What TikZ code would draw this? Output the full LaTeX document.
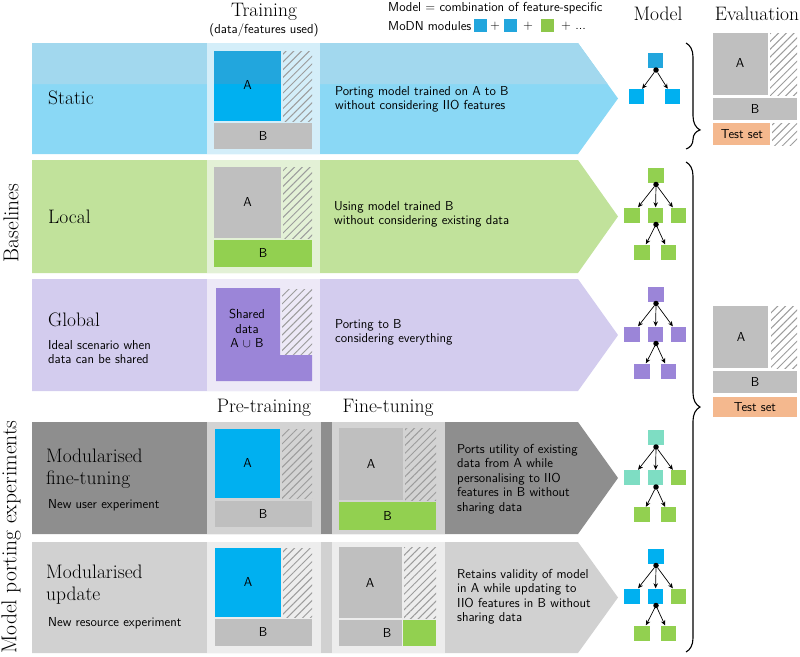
\documentclass[tikz,border=0pt]{standalone}
\usepackage{fontspec}
\usetikzlibrary{arrows.meta,patterns.meta,decorations.pathreplacing}

\definecolor{staticc}{HTML}{8AD8F5}
\definecolor{statictop}{HTML}{A2D8EE}
\definecolor{staticbox}{HTML}{D4EEF9}
\definecolor{bluea}{HTML}{00B0F0}
\definecolor{blueatop}{HTML}{22A6DD}
\definecolor{localc}{HTML}{C1E29B}
\definecolor{localbox}{HTML}{E3F1D6}
\definecolor{greenb}{HTML}{92D050}
\definecolor{greentop}{HTML}{8DC74A}
\definecolor{globalc}{HTML}{D3CCEE}
\definecolor{globalbox}{HTML}{EDE9F7}
\definecolor{purpled}{HTML}{9B85D8}
\definecolor{ftc}{HTML}{8E8E8E}
\definecolor{ftbox}{HTML}{D3D3D3}
\definecolor{upc}{HTML}{D1D1D1}
\definecolor{upbox}{HTML}{EDEDED}
\definecolor{grayb}{HTML}{BFBFBF}
\definecolor{testc}{HTML}{F4B88E}
\definecolor{tealm}{HTML}{7EDDC3}
\definecolor{hatchc}{HTML}{9C9C9C}

\tikzset{
  lbl/.style={font=\fontsize{13}{14.5}\selectfont\sffamily, inner sep=0pt},
  txt/.style={lbl, anchor=west, align=left},
  ttl/.style={font=\fontsize{19.5}{22}\selectfont, inner sep=0pt, anchor=west, align=left},
  hdr/.style={font=\fontsize{19.5}{21}\selectfont, inner sep=0pt},
  side/.style={font=\fontsize{21.5}{22}\selectfont, inner sep=0pt, rotate=90},
  hatch/.style={pattern={Lines[angle=45,distance=5.5pt,line width=1pt]}, pattern color=hatchc},
  mod/.style={minimum width=15.5pt, minimum height=15pt, inner sep=0pt},
  joint/.style={circle, fill=black, inner sep=0pt, minimum size=5.5pt},
  link/.style={-{Stealth[length=5pt,width=4.5pt]}, line width=0.7pt},
  brc/.style={decorate, line width=1.1pt},
}

\newcommand{\rowband}[3]{\fill[#1] (32,#2) -- (578,#2) -- (618,{(#2+#3)/2}) -- (578,#3) -- (32,#3) -- cycle;}

\newcommand{\modntree}[7]{%
  \node[mod, fill=#3] (#1r) at (656,#2) {};
  \node[joint] (#1j) at (656,#2+9.5) {};
  \node[mod, fill=#4] (#1a) at (632,#2+40) {};
  \node[mod, fill=#5] (#1b) at (655.5,#2+40) {};
  \node[mod, fill=#6] (#1c) at (678.5,#2+40) {};
  \node[joint] (#1k) at (656,#2+49.5) {};
  \node[mod, fill=#7] (#1d) at (642,#2+77) {};
  \node[mod, fill=#7] (#1e) at (668.5,#2+77) {};
  \draw[link] (#1j) to (#1a);
  \draw[link] (#1j) to (#1b);
  \draw[link] (#1j) to (#1c);
  \draw[link] (#1k) to (#1d);
  \draw[link] (#1k) to (#1e);
}

\begin{document}
\begin{tikzpicture}[x=1pt, y=-1pt]
\useasboundingbox (0,0) rectangle (800,656);

\node[hdr] (train) at (264,12) {Training};
\node[lbl] (trainsub) at (264,30) {(data/features used)};
\node[txt] (leg1) at (388,8) {Model = combination of feature-specific};
\node[txt] (leg2) at (388,26) {MoDN modules};
\node[mod, minimum width=13pt, minimum height=13pt, fill=blueatop] (lga) at (480.5,25.5) {};
\node[lbl] (lgp1) at (495,26) {+};
\node[mod, minimum width=13pt, minimum height=13pt, fill=blueatop] (lgb) at (510.5,25.5) {};
\node[lbl] (lgp2) at (528,26) {+};
\node[mod, minimum width=13pt, minimum height=13pt, fill=greentop] (lgc) at (547.5,25.5) {};
\node[txt] (lgp3) at (561,26) {+ ...};
\node[hdr] (model) at (658,14) {Model};
\node[hdr] (eval) at (757,14) {Evaluation};

\node[side] (base) at (11,223) {Baselines};
\node[side] (mpe) at (11,537) {Model porting experiments};

\rowband{staticc}{43}{154}
\fill[statictop] (32,43) -- (578,43) -- (607.5,84) -- (32,84) -- cycle;
\fill[staticbox] (207,43) rectangle (320,154);
\fill[bluea] (214,51) rectangle (281,121);
\fill[blueatop] (214,51) rectangle (281,84);
\fill[hatch] (283,51) rectangle (312,121);
\fill[grayb] (214,123) rectangle (312,149);
\node[lbl] (sa) at (247.5,85) {A};
\node[lbl] (sb) at (263,136) {B};
\node[ttl] (static) at (48,98) {Static};
\node[txt] (sdesc) at (335,99.5) {Porting model trained on A to B\\without considering IIO features};

\rowband{localc}{160}{273}
\fill[localbox] (207,160) rectangle (320,273);
\fill[grayb] (214,167) rectangle (281,238);
\fill[hatch] (283,167) rectangle (312,238);
\fill[greenb] (214,240) rectangle (312,267);
\node[lbl] (la) at (247.5,202) {A};
\node[lbl] (lb) at (263,253) {B};
\node[ttl] (local) at (48,216.5) {Local};
\node[txt] (ldesc) at (334,214.5) {Using model trained B\\without considering existing data};

\rowband{globalc}{279}{391}
\fill[globalbox] (207,279) rectangle (320,391);
\fill[purpled] (216,288) -- (280,288) -- (280,355) -- (312,355) -- (312,381) -- (216,381) -- cycle;
\fill[hatch] (282,289) rectangle (312,354);
\node[lbl, align=center] (gab) at (247,328.5) {Shared\\data\\A \ensuremath{\cup} B};
\node[ttl] (global) at (48,320) {Global};
\node[txt] (gsub) at (48,352) {Ideal scenario when\\data can be shared};
\node[txt] (gdesc) at (335,332.5) {Porting to B\\considering everything};

\node[hdr] (pretrain) at (264,408) {Pre-training};
\node[hdr] (finetune) at (388,408) {Fine-tuning};

\rowband{ftc}{422}{534}
\fill[ftbox] (207,422) rectangle (321,534);
\fill[ftbox] (332,422) rectangle (445,534);
\fill[bluea] (215,429) rectangle (280,498);
\fill[hatch] (282,429) rectangle (312,498);
\fill[grayb] (215,501) rectangle (312,527);
\fill[grayb] (339,428) rectangle (403,500);
\fill[hatch] (405,428) rectangle (436,500);
\fill[greenb] (339,502) rectangle (436,530);
\node[lbl] (fpa) at (247.5,463) {A};
\node[lbl] (fpb) at (263,514) {B};
\node[lbl] (ffa) at (371,464) {A};
\node[lbl] (ffb) at (387.5,516) {B};
\node[ttl] (ftune) at (46,468.5) {Modularised\\fine-tuning};
\node[txt] (fsub) at (48,505) {New user experiment};
\node[txt] (fdesc) at (457,479) {Ports utility of existing\\data from A while\\personalising to IIO\\features in B without\\sharing data};

\rowband{upc}{542}{653}
\fill[upbox] (207,542) rectangle (321,653);
\fill[upbox] (332,542) rectangle (445,653);
\fill[bluea] (215,548) rectangle (281,617);
\fill[hatch] (283,548) rectangle (312,617);
\fill[grayb] (215,619) rectangle (312,646);
\fill[grayb] (339,547) rectangle (402,618);
\fill[hatch] (404,547) rectangle (436,618);
\fill[grayb] (339,620) rectangle (402,646);
\fill[greenb] (403,620) rectangle (436,646);
\node[lbl] (upa) at (248,582) {A};
\node[lbl] (upb) at (263,632) {B};
\node[lbl] (ufa) at (370,583) {A};
\node[lbl] (ufb) at (387,633) {B};
\node[ttl] (update) at (46,584.5) {Modularised\\update};
\node[txt] (usub) at (48,623) {New resource experiment};
\node[txt] (udesc) at (457,596.5) {Retains validity of model\\in A while updating to\\IIO features in B without\\sharing data};

\node[mod, fill=blueatop] (sr) at (655.5,60) {};
\node[joint] (sj) at (656,70) {};
\node[mod, fill=bluea] (sl) at (636.5,96.5) {};
\node[mod, fill=bluea] (sq) at (672.5,96.5) {};
\draw[link] (sj) to (sl);
\draw[link] (sj) to (sq);

\modntree{l}{175}{greenb}{greenb}{greenb}{greenb}{greenb}
\modntree{g}{294}{purpled}{purpled}{purpled}{purpled}{purpled}
\modntree{f}{437.5}{tealm}{tealm}{tealm}{greenb}{greenb}
\modntree{u}{556}{bluea}{bluea}{bluea}{greenb}{greenb}

\draw[brc, decoration={brace, amplitude=14pt, aspect=0.82}] (686,43) -- (686,149);
\draw[brc, decoration={brace, amplitude=14pt, aspect=0.5}] (686,162) -- (686,652);

\fill[grayb] (713,33) rectangle (768,95);
\fill[hatch] (770,33) rectangle (797,95);
\fill[grayb] (713,98) rectangle (797,120);
\fill[testc] (713,123) rectangle (770,145);
\fill[hatch] (772,123) rectangle (797,145);
\node[lbl] (ea) at (740,63) {A};
\node[lbl] (eb) at (755,109) {B};
\node[lbl] (et) at (742,134) {Test set};

\fill[grayb] (713,306) rectangle (768,368);
\fill[hatch] (771,306) rectangle (797,368);
\fill[grayb] (713,371) rectangle (797,393);
\fill[testc] (713,397) rectangle (797,417);
\node[lbl] (fa) at (741,337) {A};
\node[lbl] (fb) at (755,382) {B};
\node[lbl] (ft) at (755,407) {Test set};
\end{tikzpicture}
\end{document}
